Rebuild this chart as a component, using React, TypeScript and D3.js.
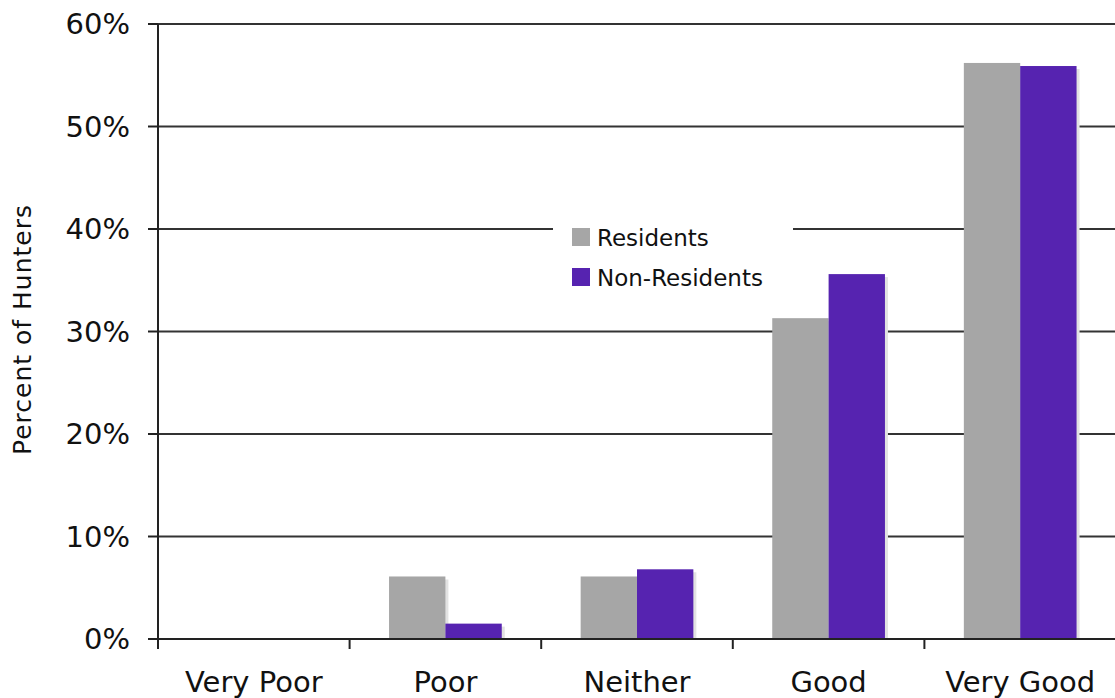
import React from "react";
import * as d3 from "d3";

const categories = ["Very Poor", "Poor", "Neither", "Good", "Very Good"];
const residents = [0, 6.1, 6.1, 31.3, 56.2];
const nonResidents = [0, 1.5, 6.8, 35.6, 55.9];
const seriesNames = ["Residents", "Non-Residents"];
const seriesColors = ["#a6a6a6", "#5623b0"];
const yTicks = [0, 10, 20, 30, 40, 50, 60];

const W = 1115;
const H = 698;
const left = 158;
const right = 1116;
const top = 24;
const bottom = 639;

export default function App() {
  const x = d3.scaleBand<string>().domain(categories).range([left, right]).paddingInner(0).paddingOuter(0);
  const y = d3.scaleLinear().domain([0, 60]).range([bottom, top]);
  const inner = d3.scaleBand<string>().domain(seriesNames).range([0, x.bandwidth()]).paddingInner(0).paddingOuter(0.7);
  const font = "'DejaVu Sans', Verdana, sans-serif";
  const series = [residents, nonResidents];
  const xTickPos = categories.map((c) => x(c)!);

  return (
    <svg width={W} height={H} style={{ position: "absolute", left: 0, top: 0, background: "#fff" }} fontFamily={font}>
      {yTicks.filter((t) => t > 0).map((t) => (
        <line key={"g" + t} x1={left} x2={W} y1={y(t)} y2={y(t)} stroke="#333" strokeWidth={2} />
      ))}
      {yTicks.map((t) => (
        <g key={"t" + t}>
          <line x1={148} x2={left} y1={y(t)} y2={y(t)} stroke="#222" strokeWidth={2} />
          <text x={130} y={y(t)} dy="0.36em" textAnchor="end" fontSize={29} fill="#111">
            {t}%
          </text>
        </g>
      ))}
      {categories.map((c, i) =>
        series.map((vals, s) => {
          const bx = x(c)! + inner(seriesNames[s])!;
          const bw = inner.bandwidth();
          const v = vals[i];
          if (v <= 0) return null;
          return (
            <g key={c + s}>
              <rect x={bx + 3} y={y(v) + 3} width={bw} height={bottom - y(v) - 3} fill="#e2e2e2" />
              <rect x={bx} y={y(v)} width={bw} height={bottom - y(v)} fill={seriesColors[s]} />
            </g>
          );
        })
      )}
      <line x1={left} x2={left} y1={top} y2={bottom + 10} stroke="#222" strokeWidth={2} />
      <line x1={left - 10} x2={W} y1={bottom} y2={bottom} stroke="#222" strokeWidth={2} />
      {xTickPos.map((p, i) => (
        <line key={"xt" + i} x1={p} x2={p} y1={bottom} y2={bottom + 10} stroke="#222" strokeWidth={2} />
      ))}
      {categories.map((c) => (
        <text key={"xl" + c} x={x(c)! + x.bandwidth() / 2} y={692} textAnchor="middle" fontSize={29} fill="#111">
          {c}
        </text>
      ))}
      <text
        transform={`translate(31,330) rotate(-90)`}
        textAnchor="middle"
        fontSize={25}
        fill="#111"
        textLength={250}
        lengthAdjust="spacing"
      >
        Percent of Hunters
      </text>
      <rect x={553} y={212} width={240} height={88} fill="#fff" />
      {seriesNames.map((n, i) => (
        <g key={"lg" + n}>
          <rect x={572} y={228 + i * 40} width={18} height={18} fill={seriesColors[i]} />
          <text x={597} y={246 + i * 40} fontSize={23} fill="#111">
            {n}
          </text>
        </g>
      ))}
    </svg>
  );
}
